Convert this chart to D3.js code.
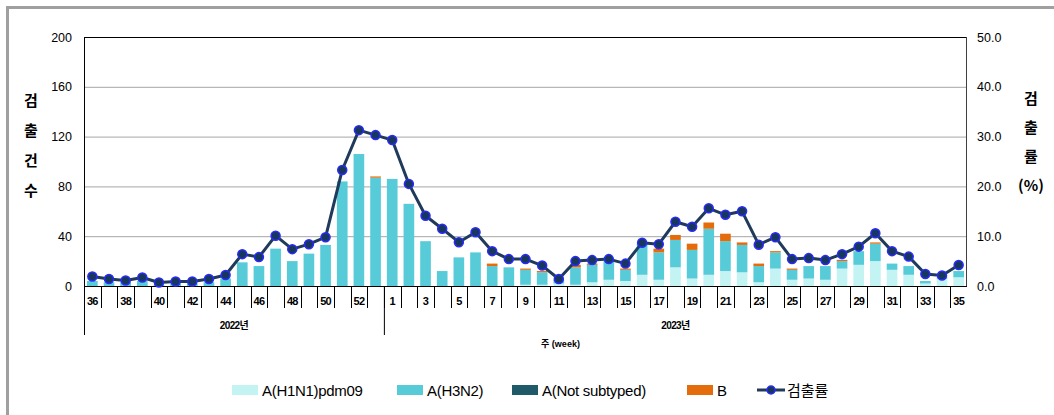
<!DOCTYPE html>
<html>
<head>
<meta charset="utf-8">
<script src="https://cdn.jsdelivr.net/npm/d3@7"></script>
<style>
  body { margin: 0; background: #fff; }
  svg { font-family: "Liberation Sans", Arial, "Noto Sans CJK KR", sans-serif; }
  .grid line { stroke: #a6a6a6; }
  .tick text { fill: #000; }
</style>
</head>
<body>
<script>
// weeks: 2022 wk36-53, 2023 wk1-35
var weeks = ["36","37","38","39","40","41","42","43","44","45","46","47","48","49","50","51","52","53",
  "1","2","3","4","5","6","7","8","9","10","11","12","13","14","15","16","17","18","19","20",
  "21","22","23","24","25","26","27","28","29","30","31","32","33","34","35"];
var years = [{label: "2022년", from: 0, to: 17}, {label: "2023년", from: 18, to: 52}];

var h1n1 = [0,0,0,0,0,0,0,0,0,0,0,0,0,0,0,0,0,0,
  0,0,0,0,0,0,0,0,1,1,2,1,3,5,4,9,5,15,6,9,12,11,3,14,5,6,5,14,17,20,13,9,2,6,7];
var h3n2 = [4,3,3,4,1,2,2,3,6,19,16,30,20,26,33,84,106,87,
  86,66,36,12,23,27,16,15,12,10,3,14,14,15,9,25,22,22,23,37,24,22,13,13,8,10,11,6,11,14,5,7,2,1,5];
var notSub = [0,0,0,0,0,0,0,0,0,0,0,0,0,0,0,0,0,0,
  0,0,0,0,0,0,0,0,0,0,0,0,0,0,0,0,0,0,0,0,0,0,0,0,0,0,0,0,0,0,0,0,0,0,0];
var fluB = [0,0,0,0,0,0,0,0,0,0,0,0,0,0,0,0,0,1,
  0,0,0,0,0,0,2,0,1,1,0,2,1,0,1,0,3,4,5,5,6,2,2,1,1,0,0,1,0,1,0,0,0,0,0];
var rate = [1.9,1.4,1.1,1.7,0.7,0.9,0.9,1.4,2.2,6.4,5.8,10.1,7.4,8.4,9.8,23.3,31.3,30.3,
  29.3,20.5,14.1,11.5,8.8,10.8,7.0,5.4,5.4,4.1,1.4,5.0,5.2,5.4,4.5,8.7,8.4,12.9,11.9,15.6,
  14.3,15.0,8.3,9.8,5.4,5.6,5.2,6.4,7.9,10.6,7.0,5.9,2.4,2.1,4.2];

var leftTicks = [0, 40, 80, 120, 160, 200];
var rightTicks = [0, 10, 20, 30, 40, 50];

var seriesKeys = ["h1n1", "h3n2", "notSub", "b"];
var seriesNames = ["A(H1N1)pdm09", "A(H3N2)", "A(Not subtyped)", "B"];
var colors = ["#c4f3f3", "#58cbd9", "#1f5a69", "#e46c0a"];

var width = 1054, height = 415;
var margin = {top: 37, right: 87, bottom: 129, left: 84};
var innerW = width - margin.left - margin.right,
    innerH = height - margin.top - margin.bottom;

var svg = d3.select("body").append("svg")
    .attr("width", width)
    .attr("height", height);

// outer frame (top + left only)
svg.append("path")
    .attr("d", "M7.5," + height + "V7.5H" + width)
    .attr("fill", "none")
    .attr("stroke", "#a0a0a0")
    .attr("stroke-width", 3);

var g = svg.append("g")
    .attr("transform", "translate(" + margin.left + "," + margin.top + ")");

var idx = d3.range(weeks.length);
var x = d3.scaleBand()
    .domain(idx)
    .range([0, innerW])
    .paddingInner(0.36)
    .paddingOuter(0.18);
var step = x.step();
var y = d3.scaleLinear().domain([0, 200]).range([innerH, 0]);
var y2 = d3.scaleLinear().domain([0, 50]).range([innerH, 0]);

// gridlines
g.append("g")
    .attr("class", "grid")
    .call(d3.axisLeft(y).tickValues(leftTicks.slice(1, -1)).tickSize(-innerW).tickFormat(""))
    .call(function(s){ s.select(".domain").remove(); });

// stacked bars
var rows = idx.map(function(i){
    return {i: i, h1n1: h1n1[i], h3n2: h3n2[i], notSub: notSub[i], b: fluB[i]};
});
var stack = d3.stack().keys(seriesKeys)(rows);

g.selectAll(".layer")
    .data(stack)
    .enter()
    .append("g")
    .attr("class", "layer")
    .attr("fill", function(d, k){ return colors[k]; })
    .selectAll("rect")
    .data(function(d){ return d; })
    .enter()
    .append("rect")
    .attr("x", function(d){ return x(d.data.i); })
    .attr("width", x.bandwidth())
    .attr("y", function(d){ return y(d[1]); })
    .attr("height", function(d){ return y(d[0]) - y(d[1]); });

// frame of plot area
g.append("line").attr("x1", 0).attr("x2", innerW).attr("y1", 0.5).attr("y2", 0.5)
    .attr("stroke", "#000");
g.append("line").attr("x1", innerW - 0.5).attr("x2", innerW - 0.5).attr("y1", 0).attr("y2", innerH)
    .attr("stroke", "#404040");

// left axis
var yAxis = g.append("g")
    .call(d3.axisLeft(y).tickValues(leftTicks).tickSize(0).tickPadding(12));
yAxis.select(".domain").attr("stroke", "#000");
yAxis.selectAll("text").style("font-size", "12.5px");

// right axis
var y2Axis = g.append("g")
    .attr("transform", "translate(" + innerW + ",0)")
    .call(d3.axisRight(y2).tickValues(rightTicks).tickSize(0).tickPadding(10).tickFormat(d3.format(".1f")));
y2Axis.select(".domain").remove();
y2Axis.selectAll("text").style("font-size", "12.5px");

// bottom axis line
g.append("line").attr("x1", 0).attr("x2", innerW).attr("y1", innerH + 0.5).attr("y2", innerH + 0.5)
    .attr("stroke", "#000");

// week boundary ticks
var xg = g.append("g").attr("transform", "translate(0," + innerH + ")");
xg.selectAll(".wtick")
    .data(d3.range(1, weeks.length))
    .enter()
    .append("line")
    .attr("x1", function(i){ return Math.round(i * step + (innerW - step * weeks.length) / 2) + 0.5; })
    .attr("x2", function(i){ return Math.round(i * step + (innerW - step * weeks.length) / 2) + 0.5; })
    .attr("y1", 0)
    .attr("y2", 22)
    .attr("stroke", "#000");

// week labels (every other)
xg.selectAll(".wlabel")
    .data(idx.filter(function(i){ return i % 2 === 0; }))
    .enter()
    .append("text")
    .attr("x", function(i){ return x(i) + x.bandwidth() / 2; })
    .attr("y", 19)
    .attr("text-anchor", "middle")
    .style("font-size", "11px")
    .style("font-weight", "bold")
    .style("letter-spacing", "-0.8px")
    .text(function(i){ return weeks[i]; });

// year groups
xg.selectAll(".ydiv")
    .data([0, years[1].from])
    .enter()
    .append("line")
    .attr("x1", function(i){ return (i === 0 ? 0 : x(i) - (step - x.bandwidth()) / 2) + 0.5; })
    .attr("x2", function(i){ return (i === 0 ? 0 : x(i) - (step - x.bandwidth()) / 2) + 0.5; })
    .attr("y1", 0)
    .attr("y2", 49)
    .attr("stroke", "#000");

xg.selectAll(".ylabel")
    .data(years)
    .enter()
    .append("text")
    .attr("x", function(d){ return (x(d.from) + x(d.to) + x.bandwidth()) / 2; })
    .attr("y", 43)
    .attr("text-anchor", "middle")
    .style("font-size", "10px")
    .style("font-weight", "bold")
    .style("letter-spacing", "-0.6px")
    .text(function(d){ return d.label; });

xg.append("text")
    .attr("x", innerW / 2 + 35)
    .attr("y", 61)
    .attr("text-anchor", "middle")
    .style("font-size", "9px")
    .style("font-weight", "bold")
    .text("주 (week)");

// detection rate line
var line = d3.line()
    .x(function(d, i){ return x(i) + x.bandwidth() / 2; })
    .y(function(d){ return y2(d); });

g.append("path")
    .datum(rate)
    .attr("fill", "none")
    .attr("stroke", "#1f3a5a")
    .attr("stroke-width", 3)
    .attr("stroke-linejoin", "round")
    .attr("d", line);

g.selectAll(".dot")
    .data(rate)
    .enter()
    .append("circle")
    .attr("cx", function(d, i){ return x(i) + x.bandwidth() / 2; })
    .attr("cy", function(d){ return y2(d); })
    .attr("r", 4.5)
    .attr("fill", "#17375e")
    .attr("stroke", "#2a2aff")
    .attr("stroke-width", 1.5);

// axis titles (vertical stacked characters)
var leftTitle = ["검", "출", "건", "수"];
svg.selectAll(".ltitle")
    .data(leftTitle)
    .enter()
    .append("text")
    .attr("x", 31)
    .attr("y", function(d, i){ return 106 + i * 30; })
    .attr("text-anchor", "middle")
    .style("font-family", "'Noto Sans CJK KR', sans-serif")
    .style("font-size", "15px")
    .style("font-weight", "bold")
    .text(function(d){ return d; });

var rightTitle = ["검", "출", "률", "(%)"];
svg.selectAll(".rtitle")
    .data(rightTitle)
    .enter()
    .append("text")
    .attr("x", 1031)
    .attr("y", function(d, i){ return 104 + i * 29; })
    .attr("text-anchor", "middle")
    .style("font-family", "'Noto Sans CJK KR', sans-serif")
    .style("font-size", "15px")
    .style("font-weight", "bold")
    .text(function(d){ return d; });

// legend
var legendX = [232, 397, 512, 687, 757];
var legend = svg.append("g").attr("transform", "translate(0,390)");
seriesNames.forEach(function(name, k){
    var lg = legend.append("g").attr("transform", "translate(" + legendX[k] + ",0)");
    lg.append("rect").attr("x", 0).attr("y", -5).attr("width", 26).attr("height", 10)
        .attr("fill", colors[k]);
    lg.append("text").attr("x", 30).attr("y", 5.5)
        .style("font-size", "15px")
        .style("letter-spacing", "-0.3px")
        .text(name);
});
var lgl = legend.append("g").attr("transform", "translate(" + legendX[4] + ",0)");
lgl.append("line").attr("x1", 0).attr("x2", 28).attr("y1", 0).attr("y2", 0)
    .attr("stroke", "#1f3a5a").attr("stroke-width", 3);
lgl.append("circle").attr("cx", 14).attr("cy", 0).attr("r", 4)
    .attr("fill", "#17375e").attr("stroke", "#2a2aff").attr("stroke-width", 1.5);
lgl.append("text").attr("x", 30).attr("y", 5.5)
    .style("font-family", "'Noto Sans CJK KR', sans-serif")
    .style("font-size", "15px")
    .text("검출률");
</script>
</body>
</html>
